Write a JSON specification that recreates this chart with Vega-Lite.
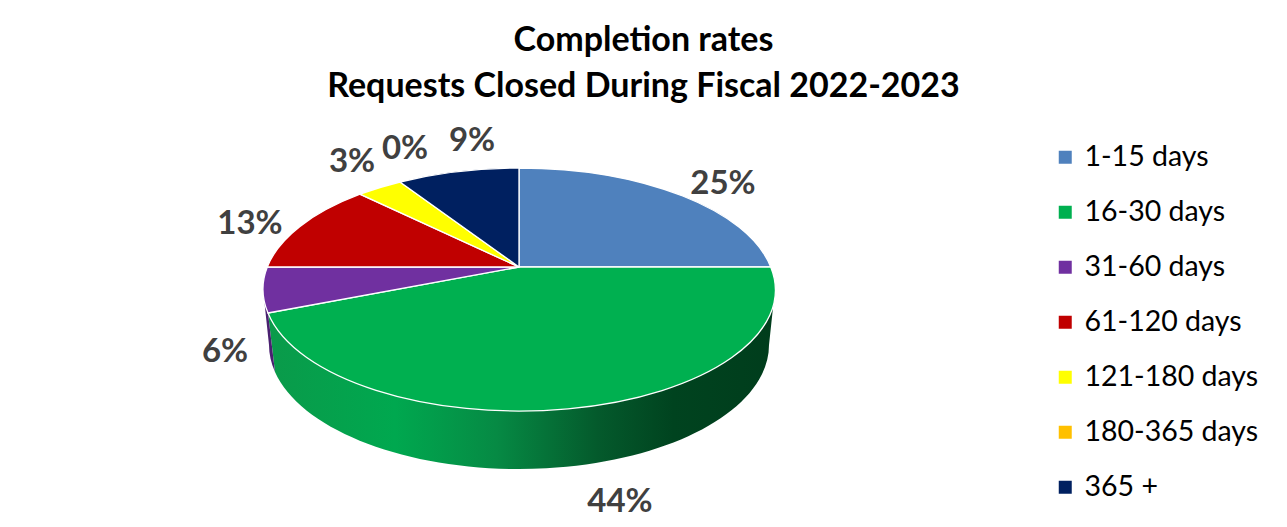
{
  "$schema": "https://vega.github.io/schema/vega-lite/v6.json",
  "width": 1287,
  "height": 417,
  "autosize": "none",
  "padding": {"left": 0, "top": 110, "right": 0, "bottom": 0},
  "background": "white",
  "title": {
    "text": ["Completion rates", "Requests Closed During Fiscal 2022-2023"],
    "font": "Lato", "fontSize": 34, "fontWeight": "bold", "color": "#000000",
    "lineHeight": 46, "anchor": "middle", "offset": 6
  },
  "data": {"values": [
    {"c": "1-15 days", "slice": "s1", "pct": 0.25},
    {"c": "16-30 days", "slice": "s2", "pct": 0.44},
    {"c": "31-60 days", "slice": "s3", "pct": 0.06},
    {"c": "61-120 days", "slice": "s4", "pct": 0.13},
    {"c": "121-180 days", "slice": "s5", "pct": 0.03},
    {"c": "180-365 days", "slice": "s6", "pct": 0.00},
    {"c": "365 +", "slice": "s7", "pct": 0.09}
  ]},
  "layer": [
    {
      "transform": [{"filter": "datum.c === '16-30 days'"}],
      "mark": {
        "type": "point", "filled": true, "size": 4, "opacity": 1,
        "shape": "M 131.5 -29.5 A 256 121 0 0 1 -375.5 -5.5 L -368.5 53.5 A 250 124 0 0 0 125.5 26.5 Z",
        "fill": {"gradient": "linear", "x1": 0, "x2": 1, "y1": 0, "y2": 0, "stops": [
          {"offset": 0, "color": "#0a9a4a"},
          {"offset": 0.25, "color": "#00a84f"},
          {"offset": 0.45, "color": "#068a44"},
          {"offset": 0.65, "color": "#045a2c"},
          {"offset": 0.8, "color": "#00431f"},
          {"offset": 1, "color": "#003d1c"}
        ]}
      },
      "encoding": {}
    },
    {
      "transform": [{"filter": "datum.c === '31-60 days'"}],
      "mark": {
        "type": "point", "filled": true, "size": 4, "opacity": 1,
        "shape": "M -380.5 -29.5 A 256 121 0 0 0 -375.5 -5.5 L -368.5 53.5 A 250 124 0 0 1 -374.5 26.5 Z",
        "fill": "#4a2070"
      },
      "encoding": {}
    },
    {
      "mark": {"type": "point", "filled": true, "size": 4, "opacity": 1, "stroke": "#ffffff", "strokeWidth": 1.3},
      "encoding": {
        "color": {
          "field": "c", "type": "nominal",
          "scale": {
            "domain": ["1-15 days", "16-30 days", "31-60 days", "61-120 days", "121-180 days", "180-365 days", "365 +"],
            "range": ["#4f81bd", "#00b050", "#7030a0", "#c00000", "#ffff00", "#ffc000", "#002060"]
          },
          "legend": {
            "title": null, "orient": "none", "legendX": 1051, "legendY": 33,
            "symbolType": "square", "symbolSize": 169, "symbolStrokeWidth": 0,
            "labelFont": "Lato", "labelFontSize": 28.5, "labelColor": "#000000", "labelLimit": 300,
            "labelOffset": 5, "rowPadding": 26
          }
        },
        "shape": {
          "field": "slice", "type": "nominal", "legend": null,
          "scale": {
            "domain": ["s1", "s2", "s3", "s4", "s5", "s6", "s7"],
            "range": [
              "M -124.5 -51.5 L -124.5 -150.5 A 256 121 0 0 1 127.2 -51.5 Z",
              "M -124.5 -51.5 L 127.2 -51.5 A 256 121 0 0 1 -375.5 -5.5 Z",
              "M -124.5 -51.5 L -375.5 -5.5 A 256 121 0 0 1 -376.2 -51.5 Z",
              "M -124.5 -51.5 L -376.2 -51.5 A 256 121 0 0 1 -283.5 -124.3 Z",
              "M -124.5 -51.5 L -283.5 -124.3 A 256 121 0 0 1 -243.5 -136.5 Z",
              "M -124.5 -51.5 L -124.5 -51.5 Z",
              "M -124.5 -51.5 L -243.5 -136.5 A 256 121 0 0 1 -124.5 -150.5 Z"
            ]
          }
        }
      }
    },
    {
      "mark": {
        "type": "text", "font": "Lato", "fontSize": 33, "fontWeight": "bold", "color": "#404040",
        "align": "center", "baseline": "middle",
        "dx": {"expr": "{'1-15 days':79.5,'16-30 days':-23.5,'31-60 days':-418.5,'61-120 days':-393.5,'121-180 days':-291.5,'180-365 days':-238.5,'365 +':-171.5}[datum.c]"},
        "dy": {"expr": "{'1-15 days':-135,'16-30 days':183,'31-60 days':33,'61-120 days':-95,'121-180 days':-157,'180-365 days':-170,'365 +':-178}[datum.c]"}
      },
      "encoding": {"text": {"field": "pct", "type": "quantitative", "format": ".0%"}}
    }
  ],
  "config": {"view": {"stroke": null}}
}
